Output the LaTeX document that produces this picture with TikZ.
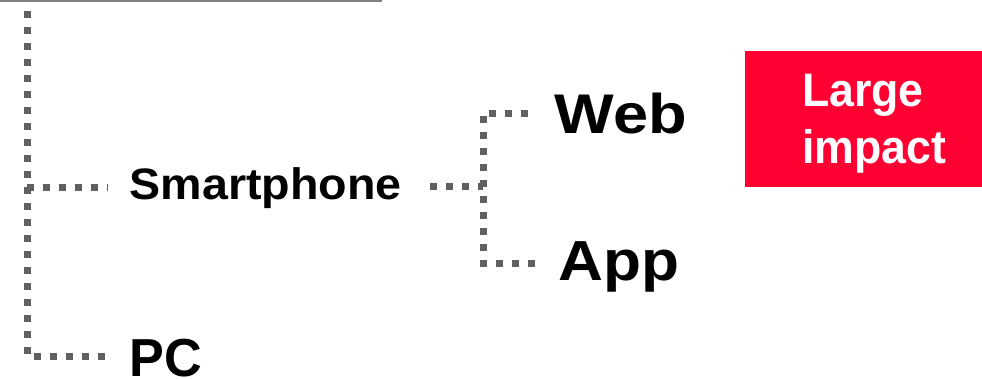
\documentclass[tikz,border=0pt]{standalone}
\usepackage{fontspec}
\setmainfont{Liberation Sans}
\definecolor{dotgray}{RGB}{96,96,96}
\definecolor{rulegray}{RGB}{128,128,128}
\definecolor{impactred}{RGB}{255,0,51}
\begin{document}
\begin{tikzpicture}[x=1pt,y=-1pt,
  dotline/.style={draw=dotgray,line width=7pt,dash pattern=on 7pt off 9pt},
  lbl/.style={anchor=base west,inner sep=0pt,font=\bfseries},
  redbox/.style={fill=impactred,draw=none,inner sep=0pt,anchor=north west}]
\useasboundingbox (0,0) rectangle (982,378);
% top rule
\draw[rulegray,line width=1.5pt] (0,0.8) -- (382,0.8);
% labels
\node[lbl] (sp) at (129.5,199) {\fontsize{44}{48}\selectfont\scalebox{1.06}[1]{Smartphone}};
\node[lbl] (pc) at (129.5,376) {\fontsize{53.5}{56}\selectfont\scalebox{0.975}[1]{PC}};
\node[lbl] (web) at (554.5,133.3) {\fontsize{55.9}{58}\selectfont\scalebox{1.13}[1]{Web}};
\node[lbl] (app) at (558,280.5) {\fontsize{56.5}{60}\selectfont\scalebox{1.1}[1]{App}};
\node[redbox,minimum width=237pt,minimum height=135.7pt] (impact) at (745,51) {};
\node[lbl,text=white] (large) at (802,106.7) {\fontsize{47}{48}\selectfont\scalebox{0.95}[1]{Large}};
\node[lbl,text=white] (imp) at (802,163) {\fontsize{47}{48}\selectfont\scalebox{0.95}[1]{impact}};
% connector points
\coordinate (root) at (27,11);
\coordinate (spin) at (108,187);
\coordinate (spfork) at (27,187);
\coordinate (pcin) at (105,356);
\coordinate (spout) at (430,186.5);
\coordinate (fork) at (483,186.5);
\coordinate (webin) at (535,113);
\coordinate (appin) at (535,263);
% connectors
\draw[dotline] (root) |- (pcin);
\draw[dotline] (spfork) -- (spin);
\draw[dotline] (spout) -- (fork);
\draw[dotline] (appin) -- ++(-52,0) |- (webin);
\end{tikzpicture}
\end{document}
